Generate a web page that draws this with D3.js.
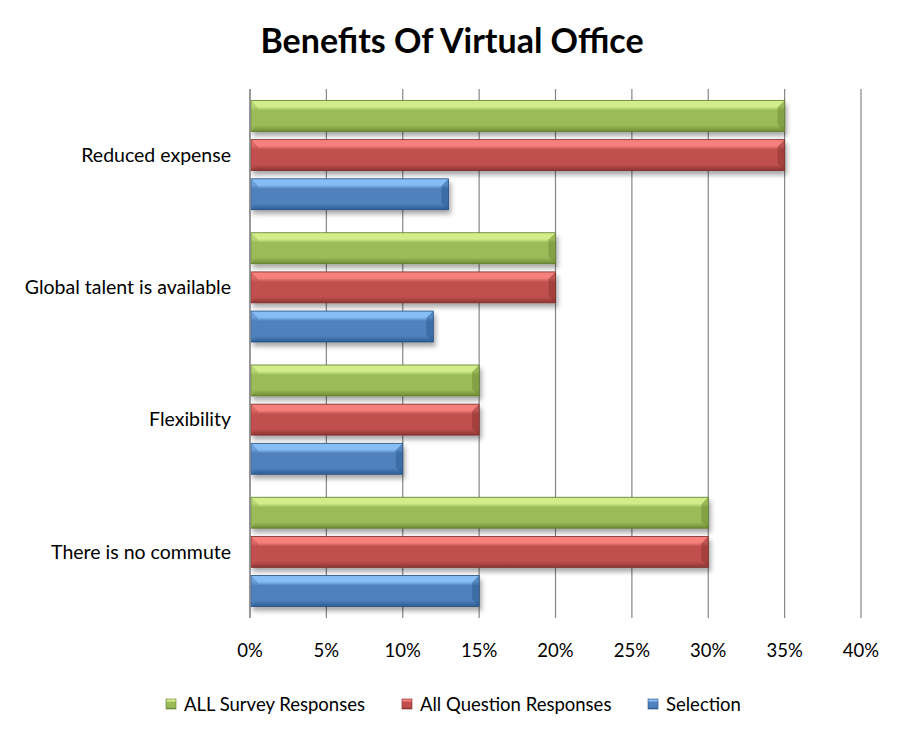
<!DOCTYPE html>
<html>
<head>
<meta charset="utf-8">
<script src="https://cdn.jsdelivr.net/npm/d3@7"></script>
<style>
  body { margin: 0; background: #fff; }
  text { font-family: Lato, "Open Sans", sans-serif; fill: #000; }
</style>
</head>
<body>
<div id="chart"></div>
<script>
var categories = ["Reduced expense", "Global talent is available", "Flexibility", "There is no commute"];
var seriesNames = ["ALL Survey Responses", "All Question Responses", "Selection"];
var allSurvey = [0.35, 0.20, 0.15, 0.30];
var allQuestion = [0.35, 0.20, 0.15, 0.30];
var selection = [0.13, 0.12, 0.10, 0.15];
var tickValues = [0, 0.05, 0.10, 0.15, 0.20, 0.25, 0.30, 0.35, 0.40];

var seriesColors = [
    { mid: "#9BBB59", light: "#D2EE8A", dark: "#6F8C35", edge: "#5E7A2B" },
    { mid: "#C0504D", light: "#F5807C", dark: "#8E3533", edge: "#7A2B29" },
    { mid: "#4F81BD", light: "#86BDF5", dark: "#2D5D95", edge: "#254C7A" }
];

const width = 904;
const height = 738;
const plot = { left: 250, right: 861, top: 89, bottom: 618 };

const svg = d3.select('#chart').append('svg')
    .attr('width', width)
    .attr('height', height);

const defs = svg.append('defs');

seriesColors.forEach(function (c, i) {
    const g = defs.append('linearGradient')
        .attr('id', 'grad' + i)
        .attr('x1', 0).attr('y1', 0).attr('x2', 0).attr('y2', 1);
    g.append('stop').attr('offset', '0%').attr('stop-color', c.light);
    g.append('stop').attr('offset', '20%').attr('stop-color', c.light);
    g.append('stop').attr('offset', '32%').attr('stop-color', c.mid);
    g.append('stop').attr('offset', '80%').attr('stop-color', c.mid);
    g.append('stop').attr('offset', '100%').attr('stop-color', c.dark);
});

const shadow = defs.append('filter')
    .attr('id', 'shadow')
    .attr('x', '-5%').attr('y', '-20%')
    .attr('width', '115%').attr('height', '160%');
shadow.append('feGaussianBlur').attr('in', 'SourceAlpha').attr('stdDeviation', 2.5);
shadow.append('feOffset').attr('dx', 2).attr('dy', 4).attr('result', 'blur');
shadow.append('feComponentTransfer').append('feFuncA').attr('type', 'linear').attr('slope', 0.35);
const merge = shadow.append('feMerge');
merge.append('feMergeNode');
merge.append('feMergeNode').attr('in', 'SourceGraphic');

svg.append('text')
    .attr('x', 452)
    .attr('y', 53)
    .attr('text-anchor', 'middle')
    .attr('font-size', 34)
    .attr('font-weight', 'bold')
    .text('Benefits Of Virtual Office');

const xScale = d3.scaleLinear()
    .domain([0, 0.4])
    .range([plot.left, plot.right]);

const yScale = d3.scaleBand()
    .domain(categories)
    .range([plot.top, plot.bottom])
    .paddingInner(0.174)
    .paddingOuter(0.087);

const innerScale = d3.scaleBand()
    .domain(seriesNames)
    .range([0, yScale.bandwidth()])
    .paddingInner(0.21);

// gridlines
svg.append('g')
    .selectAll('line')
    .data(tickValues)
    .enter().append('line')
    .attr('x1', d => xScale(d))
    .attr('x2', d => xScale(d))
    .attr('y1', plot.top)
    .attr('y2', plot.bottom)
    .attr('stroke', '#868686')
    .attr('stroke-width', 1.2);

const data = categories.map(function (cat, i) {
    return [allSurvey[i], allQuestion[i], selection[i]].map(function (v, s) {
        return { cat: cat, series: s, value: v };
    });
});

const groups = svg.append('g')
    .selectAll('g')
    .data(data)
    .enter().append('g')
    .attr('transform', (d, i) => `translate(0, ${yScale(categories[i])})`);

const bars = groups.selectAll('g.bar')
    .data(d => d)
    .enter().append('g')
    .attr('class', 'bar')
    .attr('filter', 'url(#shadow)');

bars.append('rect')
    .attr('x', xScale(0) + 1)
    .attr('y', d => innerScale(seriesNames[d.series]))
    .attr('width', d => xScale(d.value) - xScale(0) - 1)
    .attr('height', innerScale.bandwidth())
    .attr('fill', d => 'url(#grad' + d.series + ')')
    .attr('stroke', d => seriesColors[d.series].edge)
    .attr('stroke-width', 0.8);

// bevel corners on the bar ends
bars.append('path')
    .attr('d', function (d) {
        const y0 = innerScale(seriesNames[d.series]);
        const h = innerScale.bandwidth();
        const x1 = xScale(d.value);
        const b = 7;
        return `M${x1},${y0} L${x1 - b},${y0 + b} L${x1 - b},${y0 + h - b} L${x1},${y0 + h} Z`;
    })
    .attr('fill', d => seriesColors[d.series].dark)
    .attr('opacity', 0.55);

bars.append('path')
    .attr('d', function (d) {
        const y0 = innerScale(seriesNames[d.series]);
        const h = innerScale.bandwidth();
        const x0 = xScale(0) + 1;
        const b = 7;
        return `M${x0},${y0} L${x0 + b},${y0 + b} L${x0 + b},${y0 + h - b} L${x0},${y0 + h} Z`;
    })
    .attr('fill', d => seriesColors[d.series].mid)
    .attr('opacity', 0.5);

// category axis line
svg.append('line')
    .attr('x1', plot.left).attr('x2', plot.left)
    .attr('y1', plot.top).attr('y2', plot.bottom)
    .attr('stroke', '#868686')
    .attr('stroke-width', 1.2);

svg.append('g')
    .selectAll('text')
    .data(categories)
    .enter().append('text')
    .attr('x', 231)
    .attr('y', d => yScale(d) + yScale.bandwidth() / 2)
    .attr('dy', '0.35em')
    .attr('text-anchor', 'end')
    .attr('font-size', 19.5)
    .text(d => d);

svg.append('g')
    .selectAll('text')
    .data(tickValues)
    .enter().append('text')
    .attr('x', d => xScale(d))
    .attr('y', 651)
    .attr('dy', '0.35em')
    .attr('text-anchor', 'middle')
    .attr('font-size', 18.5)
    .text(d => d3.format('.0%')(d));

// legend
const legendX = [166, 402, 648];
const legend = svg.append('g')
    .selectAll('g')
    .data(seriesNames)
    .enter().append('g')
    .attr('transform', (d, i) => `translate(${legendX[i]}, 699)`);

legend.append('rect')
    .attr('width', 10)
    .attr('height', 10)
    .attr('fill', (d, i) => 'url(#grad' + i + ')')
    .attr('stroke', (d, i) => seriesColors[i].edge)
    .attr('stroke-width', 0.6);

legend.append('text')
    .attr('x', 18)
    .attr('y', 6)
    .attr('dy', '0.35em')
    .attr('font-size', 18.5)
    .text(d => d);
</script>
</body>
</html>
